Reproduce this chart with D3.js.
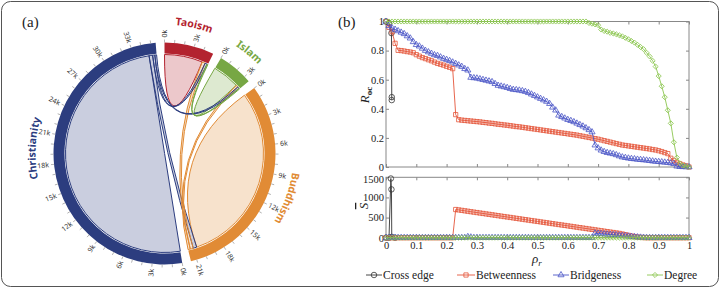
<!DOCTYPE html>
<html>
<head>
<meta charset="utf-8">
<script src="https://cdn.jsdelivr.net/npm/d3@7"></script>
<style>
body { margin: 0; background: #fff; }
svg { display: block; }
</style>
</head>
<body>
<div class="canvas"></div>
<script>
// ---- panel (a): chord data ----
var religions = ["Taoism", "Islam", "Buddhism", "Christianity"];
var links = [
  [4300, 100, 350, 250],
  [100, 3050, 250, 200],
  [350, 250, 20600, 400],
  [250, 200, 400, 34650]
];

// ---- panel (b): series ----
var rho = [0,0.01,0.02,0.03,0.04,0.05,0.06,0.07,0.08,0.09,
  0.10,0.11,0.12,0.13,0.14,0.15,0.16,0.17,0.18,0.19,
  0.20,0.21,0.22,0.23,0.24,0.25,0.26,0.27,0.28,0.29,
  0.30,0.31,0.32,0.33,0.34,0.35,0.36,0.37,0.38,0.39,
  0.40,0.41,0.42,0.43,0.44,0.45,0.46,0.47,0.48,0.49,
  0.50,0.51,0.52,0.53,0.54,0.55,0.56,0.57,0.58,0.59,
  0.60,0.61,0.62,0.63,0.64,0.65,0.66,0.67,0.68,0.69,
  0.70,0.71,0.72,0.73,0.74,0.75,0.76,0.77,0.78,0.79,
  0.80,0.81,0.82,0.83,0.84,0.85,0.86,0.87,0.88,0.89,
  0.90,0.91,0.92,0.93,0.94,0.95,0.96,0.97,0.98,0.99,1.00];

var betweenR = [1.000,0.960,0.930,0.850,0.802,0.800,0.797,0.793,0.790,0.785,
  0.772,0.762,0.752,0.745,0.737,0.730,0.721,0.712,0.706,0.700,
  0.692,0.685,0.676,0.360,0.325,0.322,0.320,0.318,0.316,0.314,
  0.312,0.310,0.307,0.305,0.302,0.300,0.297,0.294,0.292,0.289,
  0.287,0.284,0.281,0.278,0.276,0.273,0.270,0.267,0.264,0.261,
  0.258,0.255,0.252,0.249,0.246,0.243,0.240,0.237,0.234,0.231,
  0.228,0.225,0.222,0.219,0.215,0.211,0.207,0.203,0.199,0.195,
  0.191,0.186,0.181,0.176,0.171,0.166,0.161,0.156,0.151,0.148,
  0.145,0.142,0.139,0.136,0.133,0.130,0.127,0.124,0.120,0.117,
  0.112,0.106,0.099,0.092,0.060,0.045,0.032,0.022,0.014,0.008,0.000];

var bridgeR = [1.000,0.970,0.955,0.945,0.935,0.925,0.915,0.900,0.885,0.860,
  0.840,0.830,0.815,0.800,0.790,0.780,0.770,0.765,0.755,0.745,
  0.738,0.730,0.720,0.710,0.700,0.690,0.675,0.665,0.615,0.612,
  0.610,0.605,0.600,0.595,0.590,0.585,0.572,0.560,0.555,0.550,
  0.545,0.538,0.532,0.530,0.527,0.523,0.518,0.510,0.500,0.490,
  0.480,0.470,0.460,0.450,0.435,0.410,0.390,0.355,0.345,0.335,
  0.325,0.318,0.310,0.300,0.290,0.280,0.268,0.255,0.240,0.150,
  0.130,0.115,0.105,0.098,0.094,0.090,0.083,0.075,0.068,0.064,
  0.060,0.057,0.055,0.052,0.050,0.048,0.046,0.043,0.040,0.038,
  0.036,0.034,0.032,0.030,0.027,0.022,0.005,0.002,0.001,0.000,0.000];

var degreeR = [1,1,1,1,1,1,1,1,1,1,
  1,1,1,1,1,1,1,1,1,1,
  1,1,1,1,1,1,1,1,1,1,
  1,1,1,1,1,1,1,1,1,1,
  1,1,1,1,1,1,1,1,1,1,
  1,1,1,1,1,1,1,1,1,1,
  1,1,1,1,1,1,1,0.990,0.985,0.980,
  0.975,0.945,0.935,0.930,0.922,0.918,0.912,0.905,0.898,0.888,
  0.878,0.866,0.855,0.840,0.825,0.810,0.785,0.760,0.730,0.690,
  0.625,0.555,0.480,0.390,0.300,0.170,0.065,0.025,0.010,0.005,0.000];

var betweenS = [0,0,0,0,0,0,0,0,0,0,
  0,0,0,0,0,0,0,0,0,0,
  0,0,0,700,690,679,668,657,646,635,
  624,613,602,591,580,569,558,547,536,525,
  514,503,492,481,470,459,448,437,426,415,
  404,393,382,371,360,349,338,327,316,305,
  294,283,272,261,250,239,228,217,206,195,
  184,173,162,151,140,129,118,107,92,75,
  58,42,28,16,8,3,0,0,0,0,
  0,0,0,0,0,0,0,0,0,0,0];

var bridgeS = [0,0,0,0,0,0,0,0,0,0,
  0,0,0,0,0,0,0,0,0,0,
  0,0,0,0,0,0,0,22,12,0,
  0,0,0,0,0,0,0,0,0,0,
  0,0,0,0,0,0,0,0,0,0,
  0,0,0,0,0,0,0,0,0,0,
  0,0,0,0,0,0,0,0,0,110,
  102,96,90,84,78,72,65,58,50,42,
  35,28,20,14,8,4,2,0,0,0,
  0,0,0,0,0,0,0,0,0,0,0];

var degreeS = [0,0,0,0,0,0,0,0,0,0,
  0,0,0,0,0,0,0,0,0,0,
  0,0,0,0,0,0,0,0,0,0,
  0,0,0,0,0,0,0,0,0,0,
  0,0,0,0,0,0,0,0,0,0,
  0,0,0,0,0,0,0,0,0,0,
  0,0,0,0,0,0,0,0,0,0,
  0,0,0,0,0,0,0,0,0,0,
  0,0,0,0,0,0,0,0,0,0,
  0,0,0,0,0,0,0,0,0,0,0];

var crossRhoR = [0, 0.01, 0.018, 0.019, 0.019];
var crossR = [1, 0.99, 0.92, 0.48, 0.46];
var crossRhoS = [0, 0.01, 0.016, 0.018, 0.019, 0.03];
var crossS = [0, 0, 1470, 1200, 20, 0];

var xTicks = [0,0.1,0.2,0.3,0.4,0.5,0.6,0.7,0.8,0.9,1];
var xTickLabels = ["0","0.1","0.2","0.3","0.4","0.5","0.6","0.7","0.8","0.9","1"];
var rTicks = [0,0.2,0.4,0.6,0.8,1];
var rTickLabels = ["0","0.2","0.4","0.6","0.8","1"];
var sTicks = [0,500,1000,1500];
var sTickLabels = ["0","500","1000","1500"];
var legendNames = ["Cross edge", "Betweenness", "Bridgeness", "Degree"];

var relColors = ["#b3232f", "#77a744", "#e18b35", "#2c3d7f"];
var serColors = ["#333333", "#e4553a", "#4a55c6", "#8cc650"];

var svg = d3.select(".canvas").append("svg")
  .attr("width", 721)
  .attr("height", 288);

svg.append("rect")
  .attr("x", 1.5).attr("y", 1.5)
  .attr("width", 717).attr("height", 285)
  .attr("rx", 9)
  .attr("fill", "none")
  .attr("stroke", "#555")
  .attr("stroke-width", 1);

svg.append("text").attr("x", 22).attr("y", 27)
  .attr("font-family", "Liberation Serif").attr("font-size", 15)
  .attr("fill", "#222").text("(a)");
svg.append("text").attr("x", 338).attr("y", 27)
  .attr("font-family", "Liberation Serif").attr("font-size", 15)
  .attr("fill", "#222").text("(b)");

// ================= chord diagram =================
var outerR = 111, innerR = 100, labelR = 129;
var chords = d3.chord().padAngle(0.08).sortSubgroups(d3.descending)(links);
var ga = svg.append("g").attr("transform", "translate(164.5,153.5)");

var ribbon = d3.ribbon().radius(innerR - 1);
var ordered = chords.slice().sort(function(a, b){ return b.source.value - a.source.value; });

ga.append("g").selectAll("path")
  .data(ordered)
  .join("path")
  .attr("d", ribbon)
  .attr("fill", function(d){ return relColors[d.target.index]; })
  .attr("fill-opacity", 0.25)
  .attr("stroke", function(d){ return relColors[d.target.index]; })
  .attr("stroke-width", 1);

var arc = d3.arc().innerRadius(innerR).outerRadius(outerR);
var group = ga.append("g").selectAll("g")
  .data(chords.groups)
  .join("g");

group.append("path")
  .attr("d", arc)
  .attr("fill", function(d){ return relColors[d.index]; });

function groupTicks(d, step) {
  var k = (d.endAngle - d.startAngle) / d.value;
  return d3.range(0, d.value, step).map(function(v){
    return {value: v, angle: v * k + d.startAngle};
  });
}

var tick = group.append("g").selectAll("g")
  .data(function(d){ return groupTicks(d, 1000); })
  .join("g")
  .attr("transform", function(d){
    return "rotate(" + (d.angle * 180 / Math.PI - 90) + ") translate(" + outerR + ",0)";
  });

tick.append("line")
  .attr("x2", 3)
  .attr("stroke", "#999")
  .attr("stroke-width", 0.7);

tick.filter(function(d){ return d.value % 3000 === 0; })
  .append("text")
  .attr("x", 5)
  .attr("dy", "0.35em")
  .attr("transform", function(d){ return d.angle > Math.PI ? "rotate(180) translate(-10)" : null; })
  .attr("text-anchor", function(d){ return d.angle > Math.PI ? "end" : null; })
  .attr("font-family", "Noto Sans")
  .attr("font-size", 7)
  .attr("fill", "#333")
  .text(function(d){ return (d.value / 1000) + "k"; });

group.append("path")
  .attr("id", function(d){ return "lbl" + d.index; })
  .attr("fill", "none")
  .attr("d", function(d){
    var p = d3.path();
    p.arc(0, 0, labelR, d.startAngle - Math.PI / 2, d.endAngle - Math.PI / 2);
    return p.toString();
  });

group.append("text")
  .attr("font-family", "Noto Sans")
  .attr("font-weight", "bold")
  .attr("font-size", 10.5)
  .attr("text-anchor", "middle")
  .attr("fill", function(d){ return relColors[d.index]; })
  .append("textPath")
  .attr("href", function(d){ return "#lbl" + d.index; })
  .attr("startOffset", function(d){ return religions[d.index] === "Christianity" ? "55%" : "50%"; })
  .text(function(d){ return religions[d.index]; });

// ================= line charts =================
var x = d3.scaleLinear().domain([0, 1]).range([386, 689]);
var yR = d3.scaleLinear().domain([0, 1]).range([167, 21.5]);
var yS = d3.scaleLinear().domain([0, 1500]).range([237.7, 177.3]);

function frame(y) {
  var y0 = y.range()[0], y1 = y.range()[1];
  svg.append("rect")
    .attr("x", x(0)).attr("y", y1)
    .attr("width", x(1) - x(0)).attr("height", y0 - y1)
    .attr("fill", "none").attr("stroke", "#888").attr("stroke-width", 1);
}

function styleAxis(g) {
  g.select(".domain").remove();
  g.selectAll("line").attr("stroke", "#888");
  g.selectAll("text")
    .attr("font-family", "Liberation Serif")
    .attr("font-size", 10.5)
    .attr("fill", "#222");
}

function axes(y, yTicks, yLabels, showX) {
  frame(y);
  svg.append("g").attr("transform", "translate(0," + y.range()[0] + ")")
    .call(d3.axisBottom(x).tickValues(xTicks).tickSize(-3).tickPadding(4)
      .tickFormat(function(d, i){ return showX ? xTickLabels[i] : ""; }))
    .call(styleAxis);
  svg.append("g").attr("transform", "translate(0," + y.range()[1] + ")")
    .call(d3.axisTop(x).tickValues(xTicks).tickSize(-3).tickFormat(""))
    .call(styleAxis);
  svg.append("g").attr("transform", "translate(" + x(0) + ",0)")
    .call(d3.axisLeft(y).tickValues(yTicks).tickSize(-3).tickPadding(2)
      .tickFormat(function(d, i){ return yLabels[i]; }))
    .call(styleAxis);
  svg.append("g").attr("transform", "translate(" + x(1) + ",0)")
    .call(d3.axisRight(y).tickValues(yTicks).tickSize(-3).tickFormat(""))
    .call(styleAxis);
}

axes(yR, rTicks, rTickLabels, false);
axes(yS, sTicks, sTickLabels, true);

// keep the two stacked tick labels near the gap from touching
svg.selectAll(".tick text")
  .filter(function(){ return this.textContent === "1500"; })
  .attr("dy", "0.5em");
svg.selectAll(".tick text")
  .filter(function(){
    var t = d3.select(this.parentNode).attr("transform");
    return this.textContent === "0" && t === "translate(0,167)";
  })
  .attr("dy", "0.15em");

var shapes = [
  d3.symbol().type(d3.symbolCircle).size(24),
  d3.symbol().type(d3.symbolSquare).size(18),
  d3.symbol().type(d3.symbolTriangle).size(16),
  d3.symbol().type(d3.symbolSquare).size(13)
];
var shapeRot = [0, 0, 0, 45];

function series(xs, ys, y, k) {
  var pts = xs.map(function(v, i){ return [v, ys[i]]; });
  var line = d3.line().x(function(d){ return x(d[0]); }).y(function(d){ return y(d[1]); });
  svg.append("path")
    .datum(pts)
    .attr("d", line)
    .attr("fill", "none")
    .attr("stroke", serColors[k])
    .attr("stroke-width", 0.9);
  svg.append("g").selectAll("path")
    .data(pts)
    .join("path")
    .attr("d", shapes[k])
    .attr("transform", function(d){
      return "translate(" + x(d[0]) + "," + y(d[1]) + ") rotate(" + shapeRot[k] + ")";
    })
    .attr("fill", "none")
    .attr("stroke", serColors[k])
    .attr("stroke-width", 0.8);
}

series(crossRhoR, crossR, yR, 0);
series(rho, betweenR, yR, 1);
series(rho, bridgeR, yR, 2);
series(rho, degreeR, yR, 3);

series(crossRhoS, crossS, yS, 0);
series(rho, betweenS, yS, 1);
series(rho, bridgeS, yS, 2);
series(rho, degreeS, yS, 3);

// axis titles
var tR = svg.append("text")
  .attr("transform", "translate(369,95) rotate(-90)")
  .attr("text-anchor", "middle")
  .attr("font-family", "Liberation Serif")
  .attr("font-size", 13)
  .attr("fill", "#222");
tR.append("tspan").attr("font-style", "italic").text("R");
tR.append("tspan").attr("font-size", 9).attr("font-weight", "bold").attr("dy", 3).text("oc");

svg.append("text")
  .attr("transform", "translate(368,206) rotate(-90)")
  .attr("text-anchor", "middle")
  .attr("font-family", "Liberation Serif")
  .attr("font-size", 13)
  .attr("font-style", "italic")
  .attr("text-decoration", "overline")
  .attr("fill", "#222")
  .text("S");

var tX = svg.append("text")
  .attr("x", 537).attr("y", 263)
  .attr("text-anchor", "middle")
  .attr("font-family", "Liberation Serif")
  .attr("font-size", 13)
  .attr("font-style", "italic")
  .attr("fill", "#222");
tX.append("tspan").text("\u03c1");
tX.append("tspan").attr("font-size", 9).attr("dy", 3).text("r");

// legend
var legX = [366, 457, 553, 647];
var leg = svg.append("g").selectAll("g")
  .data(legendNames)
  .join("g")
  .attr("transform", function(d, i){ return "translate(" + legX[i] + ",275)"; });
leg.append("line")
  .attr("x1", 0).attr("x2", function(d, i){ return i === 1 ? 18 : 16; })
  .attr("stroke", function(d, i){ return serColors[i]; })
  .attr("stroke-width", 0.9);
leg.append("path")
  .attr("d", function(d, i){ return shapes[i](); })
  .attr("transform", function(d, i){ return "translate(" + (i === 1 ? 9 : 8) + ",0) rotate(" + shapeRot[i] + ")"; })
  .attr("fill", "none")
  .attr("stroke", function(d, i){ return serColors[i]; })
  .attr("stroke-width", 0.8);
leg.append("text")
  .attr("x", function(d, i){ return i === 1 ? 19 : 17; })
  .attr("y", 4)
  .attr("font-family", "Liberation Serif")
  .attr("font-size", 11.5)
  .attr("fill", "#222")
  .text(function(d){ return d; });
</script>
</body>
</html>
